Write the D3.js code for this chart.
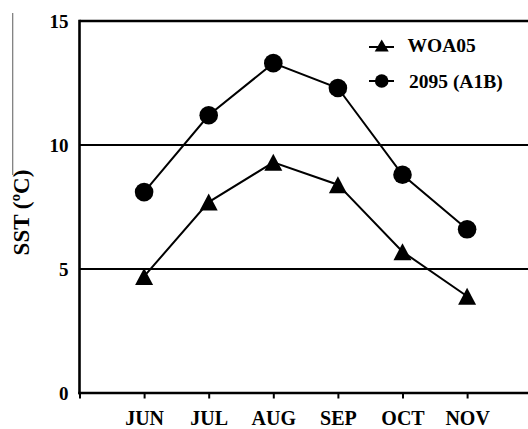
<!DOCTYPE html>
<html>
<head>
<meta charset="utf-8">
<script src="https://cdn.jsdelivr.net/npm/d3@7/dist/d3.min.js"></script>
<style>
  html, body { margin: 0; padding: 0; background: #fff; }
  svg { display: block; }
</style>
</head>
<body>
<svg id="chart" width="528" height="429"></svg>
<script>
// Monthly sea surface temperature: climatology vs. end-of-century projection
const months = ["JUN", "JUL", "AUG", "SEP", "OCT", "NOV"];
const woa05 = [4.7, 7.7, 9.3, 8.4, 5.7, 3.9];
const a1b2095 = [8.1, 11.2, 13.3, 12.3, 8.8, 6.6];
const yTicks = [0, 5, 10, 15];
const gridValues = [5, 10, 15];
const seriesNames = ["WOA05", "2095 (A1B)"];

const SERIF = "'Liberation Serif', 'Times New Roman', Times, serif";

const svg = d3.select("#chart");

// month index 1..6 sits between the axis origin (0) and an off-page 7
const x = d3.scaleLinear().domain([0, 7]).range([79.5, 531.7]);
const y = d3.scaleLinear().domain([0, 15]).range([393, 21]);

function serifText(sel, size) {
  sel.style("font-family", SERIF)
    .style("font-weight", "bold")
    .style("font-size", size + "px")
    .style("fill", "#000")
    .attr("fill", "#000");
}

// thin grey rule along the left edge
svg.append("line")
  .attr("x1", 12.7).attr("x2", 12.7)
  .attr("y1", 13).attr("y2", 175)
  .attr("stroke", "#777").attr("stroke-width", 1.2);

// horizontal reference lines (the one at 15 closes the frame on top)
svg.append("g")
  .selectAll("line")
  .data(gridValues)
  .join("line")
  .attr("x1", x(0)).attr("x2", 528)
  .attr("y1", d => y(d)).attr("y2", d => y(d))
  .attr("stroke", "#000")
  .attr("stroke-width", d => d === 15 ? 2.6 : 2.2);

// y axis: line and labels, no tick marks
const yAxis = d3.axisLeft(y).tickValues(yTicks).tickSize(0).tickPadding(11).tickFormat(d3.format("d"));
const gy = svg.append("g").attr("transform", `translate(${x(0)},0)`).call(yAxis);
gy.attr("font-family", null).attr("font-size", null);
gy.select(".domain").remove();
gy.selectAll("text").call(serifText, 19).attr("dy", "0.34em");
svg.append("line")
  .attr("x1", x(0)).attr("x2", x(0))
  .attr("y1", y(15) - 1.3).attr("y2", y(0) + 1.3)
  .attr("stroke", "#000").attr("stroke-width", 2.6);

// x axis: baseline, ticks at origin and each month, month labels
const xAxis = d3.axisBottom(x)
  .tickValues(d3.range(0, 7))
  .tickSize(5.5)
  .tickPadding(12)
  .tickFormat(i => i === 0 ? "" : months[i - 1]);
const gx = svg.append("g").attr("transform", `translate(0,${y(0)})`).call(xAxis);
gx.attr("font-family", null).attr("font-size", null);
gx.select(".domain").remove();
gx.selectAll(".tick line").attr("stroke", "#000").attr("stroke-width", 2);
gx.selectAll("text").call(serifText, 20).attr("dy", "0.71em");
svg.append("line")
  .attr("x1", x(0) - 1.3).attr("x2", 528)
  .attr("y1", y(0)).attr("y2", y(0))
  .attr("stroke", "#000").attr("stroke-width", 2.6);

// y axis title
svg.append("text")
  .attr("transform", `translate(28.8,212.5) rotate(-90)`)
  .attr("text-anchor", "middle")
  .call(serifText, 23)
  .text("SST (\u00BAC)");

// markers
function trianglePath(w, h) {
  return `M0,${-h / 2}L${w / 2},${h / 2}L${-w / 2},${h / 2}Z`;
}

const line = d3.line().x((d, i) => x(i + 1)).y(d => y(d));

svg.append("path")
  .datum(woa05)
  .attr("d", line)
  .attr("fill", "none").attr("stroke", "#000").attr("stroke-width", 2);
svg.append("path")
  .datum(a1b2095)
  .attr("d", line)
  .attr("fill", "none").attr("stroke", "#000").attr("stroke-width", 2);

svg.append("g")
  .selectAll("path")
  .data(woa05)
  .join("path")
  .attr("transform", (d, i) => `translate(${x(i + 1)},${y(d)})`)
  .attr("d", trianglePath(18, 17))
  .attr("fill", "#000");

svg.append("g")
  .selectAll("circle")
  .data(a1b2095)
  .join("circle")
  .attr("cx", (d, i) => x(i + 1))
  .attr("cy", d => y(d))
  .attr("r", 9.3)
  .attr("fill", "#000");

// legend
const legend = svg.append("g");
const legendRows = [
  { name: seriesNames[0], cy: 45.5, baseline: 52, marker: "tri" },
  { name: seriesNames[1], cy: 81, baseline: 88.3, marker: "circ" }
];
legendRows.forEach(r => {
  legend.append("line")
    .attr("x1", 369).attr("x2", 394)
    .attr("y1", r.marker === "tri" ? r.cy + 1.5 : r.cy)
    .attr("y2", r.marker === "tri" ? r.cy + 1.5 : r.cy)
    .attr("stroke", "#000").attr("stroke-width", 2);
  if (r.marker === "tri") {
    legend.append("path")
      .attr("transform", `translate(381.7,${r.cy})`)
      .attr("d", trianglePath(14, 12))
      .attr("fill", "#000");
  } else {
    legend.append("circle")
      .attr("cx", 381.7).attr("cy", r.cy).attr("r", 6.8)
      .attr("fill", "#000");
  }
  legend.append("text")
    .attr("x", r.marker === "tri" ? 407.5 : 409)
    .attr("y", r.baseline)
    .call(serifText, 19.5)
    .text(r.name);
});
</script>
</body>
</html>
